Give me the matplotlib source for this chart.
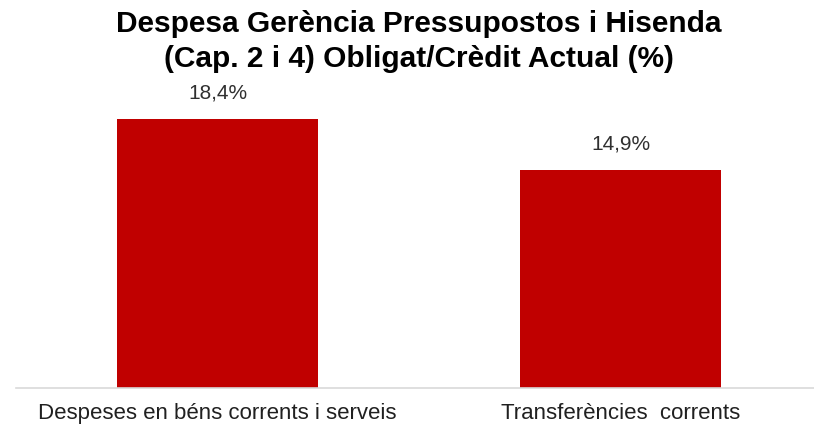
import matplotlib.pyplot as plt

# Chart data
categories = ["Despeses en béns corrents i serveis", "Transferències  corrents"]
values = [18.4, 14.9]
value_labels = ["18,4%", "14,9%"]
title = "Despesa Gerència Pressupostos i Hisenda\n(Cap. 2 i 4) Obligat/Crèdit Actual (%)"

plt.rcParams['font.family'] = ['Liberation Sans', 'DejaVu Sans']

fig = plt.figure(figsize=(8.14, 4.28), dpi=100)
ax = fig.add_axes([16 / 814, (428 - 388) / 428, 798 / 814, 292 / 428])

x = range(len(categories))
bars = ax.bar(x, values, width=0.5, color="#c00000")

for xi, v, lab in zip(x, values, value_labels):
    ax.annotate(lab, (xi, v), xytext=(0, 12), textcoords="offset points",
                ha="center", va="bottom", fontsize=15, color="#303030")

ax.set_xlim(-0.5, 1.48)
ax.set_ylim(0, 20)
ax.set_xticks(list(x))
ax.set_xticklabels(categories, fontsize=16, color="#202020")
ax.tick_params(axis="x", length=0, pad=11)
ax.set_yticks([])
for side in ["top", "left", "right"]:
    ax.spines[side].set_visible(False)
ax.spines["bottom"].set_color("#d9d9d9")
ax.spines["bottom"].set_linewidth(1.2)

fig.text(0.515, 0.976, title, ha="center", va="top", fontsize=21.5,
         fontweight="bold", linespacing=1.3)

fig.savefig("out.png", dpi=100)
